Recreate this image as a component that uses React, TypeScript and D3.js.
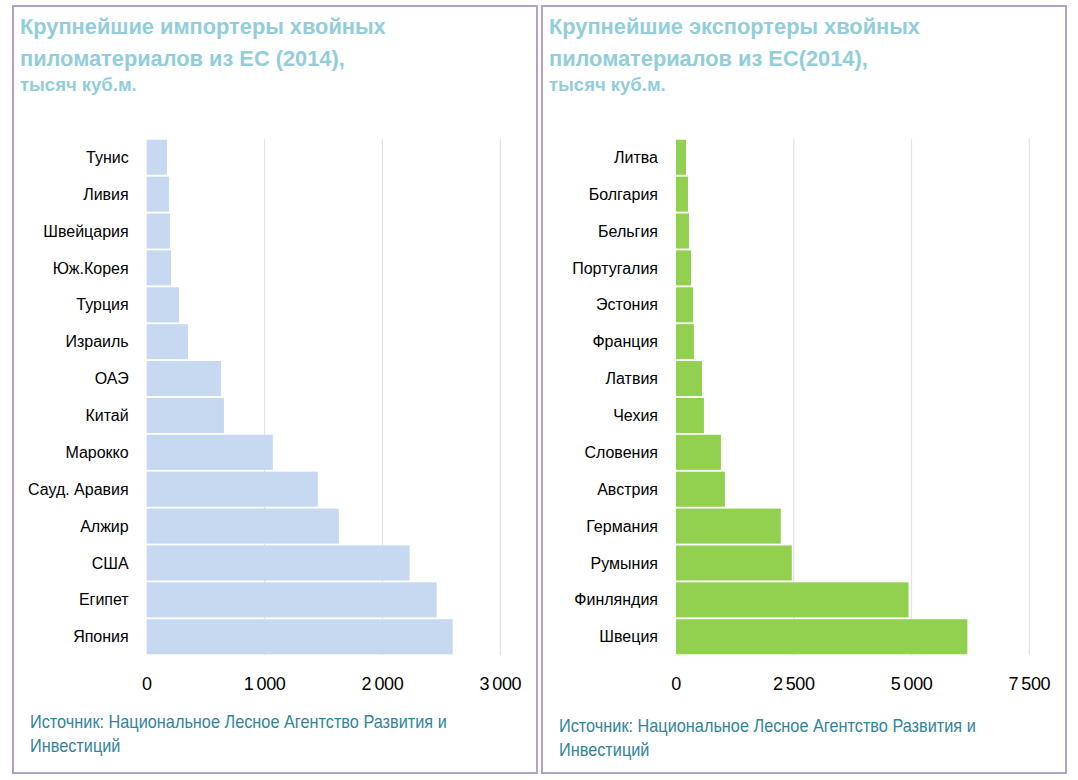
import React from "react";
import * as d3 from "d3";

const importCountries = ["Тунис", "Ливия", "Швейцария", "Юж.Корея", "Турция", "Израиль", "ОАЭ", "Китай", "Марокко", "Сауд. Аравия", "Алжир", "США", "Египет", "Япония"];
const importValues = [172, 189, 198, 206, 274, 350, 630, 655, 1070, 1452, 1630, 2231, 2460, 2596];
const importTicks = [0, 1000, 2000, 3000];

const exportCountries = ["Литва", "Болгария", "Бельгия", "Португалия", "Эстония", "Франция", "Латвия", "Чехия", "Словения", "Австрия", "Германия", "Румыния", "Финляндия", "Швеция"];
const exportValues = [212, 254, 275, 318, 360, 381, 551, 593, 953, 1038, 2225, 2458, 4936, 6186];
const exportTicks = [0, 2500, 5000, 7500];

const importTitle = ["Крупнейшие импортеры хвойных", "пиломатериалов из ЕС (2014),", "тысяч куб.м."];
const exportTitle = ["Крупнейшие экспортеры хвойных", "пиломатериалов из ЕС(2014),", "тысяч куб.м."];
const sourceLines = ["Источник: Национальное Лесное Агентство Развития и", "Инвестиций"];

const fmt = (v: number) => (v === 0 ? "0" : d3.format(",")(v).replace(/,/g, "\u2009"));

type PanelProps = {
  x0: number;
  width: number;
  title: string[];
  cats: string[];
  vals: number[];
  ticks: number[];
  color: string;
  zeroX: number;
  maxX: number;
  sourceY: number;
};

function Panel({ x0, width, title, cats, vals, ticks, color, zeroX, maxX, sourceY }: PanelProps) {
  const xs = d3.scaleLinear().domain([0, ticks[ticks.length - 1]]).range([zeroX, maxX]);
  const ys = d3.scaleBand<string>().domain(cats).range([139, 655]).paddingInner(0.05).paddingOuter(0.02);
  const labelFont = "'Liberation Sans', Arial, sans-serif";
  const sx = x0 + 17;
  return (
    <g>
      <rect x={x0} y={6} width={width} height={767} fill="#fff" stroke="#B3A2C7" strokeWidth={2} />
      <text fill="#92CDDC" fontFamily={labelFont} fontWeight="bold">
        <tspan x={x0 + 7} y={34} fontSize={21.8}>{title[0]}</tspan>
        <tspan x={x0 + 7} y={66} fontSize={21.8}>{title[1]}</tspan>
        <tspan x={x0 + 7} y={91} fontSize={18.5}>{title[2]}</tspan>
      </text>
      {ticks.filter((t) => t > 0).map((t) => (
        <line key={"g" + t} x1={xs(t)} x2={xs(t)} y1={139} y2={655} stroke="#E3E3E3" strokeWidth={1.2} />
      ))}
      {cats.map((c, i) => (
        <rect key={c} x={xs(0)} y={ys(c)!} width={xs(vals[i]) - xs(0)} height={ys.bandwidth()} fill={color} />
      ))}
      {cats.map((c) => (
        <text key={"l" + c} x={zeroX - 18} y={ys(c)! + ys.bandwidth() / 2} dy="0.35em" textAnchor="end" fontSize={16} fontFamily={labelFont} fill="#000">
          {c}
        </text>
      ))}
      {ticks.map((t) => (
        <text key={"t" + t} x={xs(t)} y={690} textAnchor="middle" fontSize={18} fontFamily={labelFont} fill="#000" letterSpacing={-0.4}>
          {fmt(t)}
        </text>
      ))}
      <g transform={`translate(${sx},0) scale(0.905,1)`}>
        <text fill="#31859C" fontFamily={labelFont} fontSize={18}>
          <tspan x={0} y={sourceY}>{sourceLines[0]}</tspan>
          <tspan x={0} y={sourceY + 24}>{sourceLines[1]}</tspan>
        </text>
      </g>
    </g>
  );
}

export default function App() {
  return (
    <svg width={1078} height={780} style={{ position: "absolute", left: 0, top: 0 }}>
      <rect width={1078} height={780} fill="#fff" />
      <Panel x0={13} width={524} title={importTitle} cats={importCountries} vals={importValues} ticks={importTicks} color="#C6D9F1" zeroX={146.7} maxX={500.3} sourceY={728} />
      <Panel x0={542} width={524} title={exportTitle} cats={exportCountries} vals={exportValues} ticks={exportTicks} color="#92D050" zeroX={676} maxX={1029.3} sourceY={732} />
    </svg>
  );
}
